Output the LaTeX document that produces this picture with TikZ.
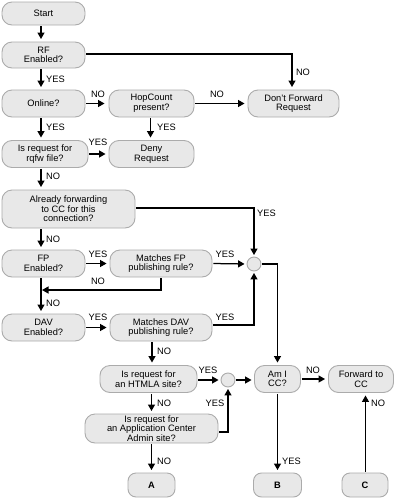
\documentclass[tikz,border=0pt]{standalone}
\usepackage{fontspec}
\setmainfont{Liberation Sans}
\usetikzlibrary{arrows.meta}
\definecolor{boxfill}{HTML}{E8E8E8}
\definecolor{boxline}{HTML}{ABABAB}
\begin{document}
\begin{tikzpicture}[x=1pt,y=-1pt,
  txt/.style={font=\fontsize{9.3}{9.6}\selectfont},
  box/.style={txt,draw=boxline,fill=boxfill,line width=0.9pt,rounded corners=10pt,inner sep=0pt,align=center},
  junc/.style={draw=boxline,fill=boxfill,line width=0.9pt,circle,minimum size=14pt,inner sep=0pt},
  lbl/.style={txt,inner sep=0pt},
  ln/.style={line width=1.25pt},
  arr/.style={ln,-{Triangle[length=6.5pt,width=7pt]},shorten >=2.5pt,shorten <=1pt}]
\useasboundingbox (0,0) rectangle (404,499);
% nodes
\node[box,minimum width=83pt,minimum height=23pt] (start) at (43.5,13.5) {Start};
\node[box,minimum width=83pt,minimum height=26pt] (rf) at (43.5,55) {RF\\Enabled?};
\node[box,minimum width=83pt,minimum height=27pt] (online) at (43.5,103.5) {Online?};
\node[box,minimum width=85pt,minimum height=27pt] (hop) at (151.5,103.5) {HopCount\\present?};
\node[box,minimum width=91pt,minimum height=27pt] (dont) at (293.5,103.5) {Don't Forward\\Request};
\node[box,minimum width=86pt,minimum height=27pt] (rqfw) at (45,154) {Is request for\\rqfw file?};
\node[box,minimum width=85pt,minimum height=27pt] (deny) at (151.5,154) {Deny\\Request};
\node[box,minimum width=133pt,minimum height=38pt] (already) at (68.5,209) {Already forwarding\\to CC for this\\connection?};
\node[box,minimum width=83pt,minimum height=27pt] (fp) at (43.5,263.5) {FP\\Enabled?};
\node[box,minimum width=102pt,minimum height=27pt] (mfp) at (161,263.5) {Matches FP\\publishing rule?};
\node[junc] (c1) at (254,264) {};
\node[box,minimum width=83pt,minimum height=27pt] (dav) at (43.5,327.5) {DAV\\Enabled?};
\node[box,minimum width=102pt,minimum height=27pt] (mdav) at (161,327.5) {Matches DAV\\publishing rule?};
\node[box,minimum width=97pt,minimum height=27pt] (htmla) at (148.5,379) {Is request for\\an HTMLA site?};
\node[junc] (c2) at (228,380) {};
\node[box,minimum width=46pt,minimum height=27pt] (amicc) at (277.5,379) {Am I\\CC?};
\node[box,minimum width=65pt,minimum height=27pt] (fwd) at (361,379) {Forward to\\CC};
\node[box,minimum width=133pt,minimum height=29pt] (acadmin) at (151.5,428.5) {Is request for\\an Application Center\\Admin site?};
\node[box,rounded corners=8pt,minimum width=47pt,minimum height=24pt] (a) at (151.5,485) {\textbf{A}};
\node[box,rounded corners=8pt,minimum width=48pt,minimum height=24pt] (b) at (277.5,485) {\textbf{B}};
\node[box,rounded corners=8pt,minimum width=46pt,minimum height=24pt] (c) at (365,485) {\textbf{C}};
% connectors
\draw[arr] ([xshift=-2.5pt]start.south) -- ([xshift=-2.5pt]rf.north);
\draw[arr] ([yshift=1pt]rf.east) -| ([xshift=-1.5pt]dont.north);
\draw[arr] ([xshift=-2.5pt]rf.south) -- ([xshift=-2.5pt]online.north);
\draw[arr,shorten >=4pt] (online.east) -- (hop.west);
\draw[arr,shorten >=3pt] (hop.east) -- (dont.west);
\draw[arr] ([xshift=-2.5pt]online.south) -- ([xshift=-2.5pt]online.south |- rqfw.north);
\draw[arr] ([xshift=-1pt]hop.south) -- ([xshift=-1pt]deny.north);
\draw[arr,shorten >=3pt] (rqfw.east) -- (deny.west);
\draw[arr] ([xshift=-4pt]rqfw.south) -- ([xshift=-4pt]rqfw.south |- already.north);
\draw[arr,shorten >=1.5pt] ([yshift=1pt]already.east) -| (c1.north);
\draw[arr] (already.south -| fp.south) ++(-2.5,0) coordinate (q1) -- (q1 |- fp.north);
\draw[arr,shorten >=3pt] (fp.east) -- (mfp.west);
\draw[arr,shorten >=2pt] (mfp.east) -- (c1.west);
\coordinate (nofp) at (41,290);
\draw[arr,shorten >=1pt] (mfp.south) |- (nofp);
\draw[arr] ([xshift=-2.5pt]fp.south) -- ([xshift=-2.5pt]dav.north);
\draw[arr,shorten >=3pt] (dav.east) -- (mdav.west);
\draw[arr,shorten >=1.5pt] ([yshift=2.5pt]mdav.east) -| (c1.south);
\draw[arr] (c1.east) -| (amicc.north);
\draw[arr] ([xshift=-9pt]mdav.south) -- ([xshift=-9pt]mdav.south |- htmla.north);
\draw[arr,shorten >=2pt] ([yshift=-1pt]htmla.east) -- (c2.west);
\draw[arr] (c2.east) -- (c2.east -| amicc.west);
\draw[arr,shorten >=3pt] (amicc.east) -- (fwd.west);
\draw[arr] (acadmin.north |- htmla.south) -- (acadmin.north);
\draw[arr,shorten >=1.5pt] ([yshift=-3.5pt]acadmin.east) -| (c2.south);
\draw[arr] (acadmin.south) -- (a.north);
\draw[arr] (amicc.south) -- (b.north);
\draw[arr] ([xshift=0.5pt]c.north) -- ([xshift=0.5pt]c.north |- fwd.south);
% labels
\node[lbl,anchor=west] (l1) at (46,79) {YES};
\node[lbl] (l2) at (303,72) {NO};
\node[lbl] (l3) at (98,94) {NO};
\node[lbl] (l4) at (217,94) {NO};
\node[lbl,anchor=west] (l5) at (46,127) {YES};
\node[lbl,anchor=west] (l6) at (157,127) {YES};
\node[lbl] (l7) at (98,142) {YES};
\node[lbl,anchor=west] (l8) at (46,176) {NO};
\node[lbl,anchor=west] (l9) at (257,213) {YES};
\node[lbl,anchor=west] (l10) at (46,239) {NO};
\node[lbl] (l11) at (98,254) {YES};
\node[lbl] (l12) at (225,254) {YES};
\node[lbl] (l13) at (98,281) {NO};
\node[lbl,anchor=west] (l14) at (46,303) {NO};
\node[lbl] (l15) at (98,317) {YES};
\node[lbl] (l16) at (225,317) {YES};
\node[lbl,anchor=west] (l17) at (157,351) {NO};
\node[lbl] (l18) at (208,370) {YES};
\node[lbl] (l19) at (313,370) {NO};
\node[lbl,anchor=west] (l20) at (157,403) {NO};
\node[lbl] (l21) at (215,403) {YES};
\node[lbl,anchor=west] (l22) at (157,461) {NO};
\node[lbl,anchor=west] (l23) at (282,461) {YES};
\node[lbl,anchor=west] (l24) at (371,403) {NO};
\end{tikzpicture}
\end{document}
